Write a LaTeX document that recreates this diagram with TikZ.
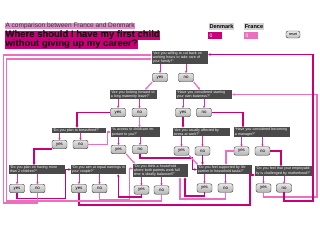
\documentclass[tikz,border=0pt]{standalone}
\usepackage{fontspec}
\setmainfont{Liberation Sans}
\usetikzlibrary{arrows.meta}
\definecolor{dkmagenta}{HTML}{C8007A}
\definecolor{frpink}{HTML}{EA6FBF}
\definecolor{subpink}{HTML}{E58BCB}
\definecolor{qgray}{HTML}{4A4A4A}

\begin{document}
\begin{tikzpicture}[x=1pt, y=-1pt,
  qbox/.style={fill=qgray, text=white, font=\fontsize{3.6}{4.2}\selectfont, align=left, inner sep=0.8pt},
  ansbtn/.style={draw=gray!45!black, line width=0.4pt, rounded corners=2pt, top color=gray!20, bottom color=gray!60, minimum width=15pt, minimum height=8.5pt, inner sep=0pt, font=\fontsize{4.4}{5}\selectfont},
  dkline/.style={draw=dkmagenta, line width=1.2pt, -{Stealth[length=2.4pt,width=2.6pt]}},
  frline/.style={draw=frpink, line width=1.2pt, -{Stealth[length=2.4pt,width=2.6pt]}},
  qarrow/.style={draw=frpink!45!dkmagenta, line width=0.9pt, -{Stealth[length=2.2pt,width=2.4pt]}}]
  \useasboundingbox (0,0) rectangle (320,240);
  % heading
  \node[anchor=west, fill=subpink, inner sep=0.4pt, text height=4.6pt, text depth=1.2pt, font=\fontsize{6.5}{7}\selectfont, text=black!80] (subtitle) at (5,26) {A comparison between France and Denmark};
  \node[anchor=west, fill=dkmagenta, inner sep=0.4pt, text height=6.9pt, text depth=1.9pt, font=\fontsize{9.5}{10}\selectfont\bfseries] (title1) at (5,35.5) {Where should I have my first child};
  \node[anchor=west, fill=dkmagenta, inner sep=0.4pt, text height=6.9pt, text depth=1.9pt, font=\fontsize{9.5}{10}\selectfont\bfseries] (title2) at (5,44.5) {without giving up my career?};
  % score counters
  \node[fill=gray!35, inner sep=0.8pt, text height=4pt, text depth=0.8pt, font=\fontsize{5.6}{6}\selectfont\bfseries] (dklabel) at (221.5,26.5) {Denmark};
  \node[fill=gray!35, inner sep=0.8pt, text height=4pt, text depth=0.8pt, font=\fontsize{5.6}{6}\selectfont\bfseries] (frlabel) at (254,26.5) {France};
  \node[fill=dkmagenta, text=white, text width=11pt, align=left, inner sep=1.5pt, minimum height=7pt, font=\fontsize{5}{6}\selectfont] (dkscore) at (215,35.5) {0};
  \node[fill=frpink, text=white, text width=11pt, align=left, inner sep=1.5pt, minimum height=7pt, font=\fontsize{5}{6}\selectfont] (frscore) at (251,35.5) {0};
  \node[draw=gray!40!black, rounded corners=2pt, top color=gray!15, bottom color=gray!50, minimum width=14pt, minimum height=7pt, inner sep=0pt, font=\fontsize{3.8}{4}\selectfont] (reset) at (293,34.5) {reset};

  % questions
  \node[qbox, text width=54.4pt] (q1) at (180,57.5) {``Are you willing to cut back on working hours to take care of your family?''};
  \node[qbox, text width=45.4pt] (q2) at (133.5,94.5) {``Are you looking forward to a long maternity leave?''};
  \node[qbox, text width=54.4pt] (q3) at (204,94.5) {``Have you considered starting your own business?''};
  \node[qbox, text width=52.4pt] (q4) at (79,130.5) {``Do you plan to breastfeed?''};
  \node[qbox, text width=47.4pt] (q5) at (135.5,132) {``Is access to childcare important to you?''};
  \node[qbox, text width=55.4pt] (q6) at (201.5,132) {``Are you usually affected by stress at work?''};
  \node[qbox, text width=54.4pt] (q7) at (262,132) {``Have you considered becoming a manager?''};
  \node[qbox, text width=54.4pt] (q8) at (37,169.5) {``Do you plan on having more than 2 children?''};
  \node[qbox, text width=53.4pt] (q9) at (98.5,169.5) {``Do you aim at equal earnings in your couple?''};
  \node[qbox, text width=53.4pt] (q10) at (160.5,170.5) {``Do you think a household where both parents work full time is ideally balanced?''};
  \node[qbox, text width=53.4pt] (q11) at (224.5,169.5) {``Do you feel supported by life partner in household tasks?''};
  \node[qbox, text width=55.4pt] (q12) at (283.5,171) {``Do you feel that your employability is challenged by motherhood?''};

  % answer buttons
  \node[ansbtn] (y1) at (160,77.5) {yes};    \node[ansbtn] (n1) at (186,77.5) {no};
  \node[ansbtn] (y2) at (118,112.5) {yes};   \node[ansbtn] (n2) at (139.5,112.5) {no};
  \node[ansbtn] (y3) at (183,112.5) {yes};   \node[ansbtn] (n3) at (204,112.5) {no};
  \node[ansbtn] (y4) at (59.5,144.5) {yes};  \node[ansbtn] (n4) at (80.5,144.5) {no};
  \node[ansbtn] (y5) at (118.5,149.5) {yes}; \node[ansbtn] (n5) at (140,149.5) {no};
  \node[ansbtn] (y6) at (181.5,151) {yes};   \node[ansbtn] (n6) at (202.5,151) {no};
  \node[ansbtn] (y7) at (241.5,151) {yes};   \node[ansbtn] (n7) at (262.5,151) {no};
  \node[ansbtn] (y8) at (17,188.5) {yes};    \node[ansbtn] (n8) at (37.5,188.5) {no};
  \node[ansbtn] (y9) at (79,188.5) {yes};    \node[ansbtn] (n9) at (99.5,188.5) {no};
  \node[ansbtn] (y10) at (141.5,190) {yes};  \node[ansbtn] (n10) at (161.5,190) {no};
  \node[ansbtn] (y11) at (204.5,188) {yes};  \node[ansbtn] (n11) at (225.5,188) {no};
  \node[ansbtn] (y12) at (263.5,188) {yes};  \node[ansbtn] (n12) at (284,188) {no};

  % question to its answers
  \draw[qarrow] (q1.south -| y1) -- (y1.north);   \draw[qarrow] (q1.south -| n1) -- (n1.north);
  \draw[qarrow] (q2.south -| y2) -- (y2.north);   \draw[qarrow] (q2.south -| n2) -- (n2.north);
  \draw[qarrow] (q3.south -| y3) -- (y3.north);   \draw[qarrow] (q3.south -| n3) -- (n3.north);
  \draw[qarrow] (q4.south -| y4) -- (y4.north);   \draw[qarrow] (q4.south -| n4) -- (n4.north);
  \draw[qarrow] (q5.south -| y5) -- (y5.north);   \draw[qarrow] (q5.south -| n5) -- (n5.north);
  \draw[qarrow] (q6.south -| y6) -- (y6.north);   \draw[qarrow] (q6.south -| n6) -- (n6.north);
  \draw[qarrow] (q7.south -| y7) -- (y7.north);   \draw[qarrow] (q7.south -| n7) -- (n7.north);
  \draw[qarrow] (q8.south -| y8) -- (y8.north);   \draw[qarrow] (q8.south -| n8) -- (n8.north);
  \draw[qarrow] (q9.south -| y9) -- (y9.north);   \draw[qarrow] (q9.south -| n9) -- (n9.north);
  \draw[qarrow] (q10.south -| y10) -- (y10.north); \draw[qarrow] (q10.south -| n10) -- (n10.north);
  \draw[qarrow] (q11.south -| y11) -- (y11.north); \draw[qarrow] (q11.south -| n11) -- (n11.north);
  \draw[qarrow] (q12.south -| y12) -- (y12.north); \draw[qarrow] (q12.south -| n12) -- (n12.north);

  % answers to the next question
  \draw[frline] (y1.south west) -- ([xshift=-12pt]q2.north east);
  \draw[frline] (n1.south east) -- ([xshift=-4pt]q3.north);
  \draw[dkline] (y2.west) -| ([xshift=-2pt]q4.north);
  \draw[frline] (n2.south) -- (q5.north -| n2);
  \draw[dkline] (y3.south) -- (q6.north -| y3);
  \draw[dkline] (n3.east) -| ([xshift=-19pt]q7.north);
  \draw[dkline] (y4.south west) -| ([xshift=-3pt]q8.north);
  \draw[frline] (n4.east) -| ([xshift=-3pt]q5.west) -- (q5.west);
  \draw[frline] (y5.south east) -- ([xshift=2pt]q10.north west);
  \draw[dkline] (n5.south) -- ++(0,4) -| ([xshift=-4pt]q11.west) -- (q11.west);
  \draw[frline] (y6.south east) -- ([xshift=1pt]q11.north west);
  \draw[dkline] (n6.south) -- (q11.north -| n6);
  \draw[frline] (y7.west) -| ([xshift=1.5pt]q11.north);
  \draw[dkline] (n7.east) -| ([xshift=-2.5pt]q12.north);

  % last row, routed along the bottom
  \draw[dkline] (y8.south) -- ++(0,5.5) -| ([xshift=-5pt]q9.west) -- (q9.west);
  \draw[dkline] (y9.south) |- (250,205) |- ([yshift=-4pt]q12.west);
  \draw[frline] (n9.south) -- ++(0,7) -| ([xshift=-3.5pt,yshift=2pt]q10.west) -- ([yshift=2pt]q10.west);
  \draw[dkline] (y10.south) -- ++(0,2.5) -| ([xshift=-8pt]q9.south east);
  \draw[dkline] (y11.south) -- ++(0,3.5) -| ([xshift=24.5pt]q10.south);
  \draw[frline] (n11.south) -- ++(0,6.5) -| ([xshift=19.5pt]q10.south);

  % loops back to the start
  \draw[frline, line width=1.6pt] (n8.south) |- (3.5,203) |- ([yshift=2.5pt]q1.west);
  \draw[frline, line width=1.6pt] (n10.south) |- (6.5,201) |- ([yshift=-1.5pt]q1.west);
  \draw[frline, line width=1.5pt] (y12.south) |- (317,197) |- (q3.east);
  \draw[dkline, line width=1.8pt] (n12.south) |- (313,201) |- ([yshift=3pt]q1.east);
\end{tikzpicture}
\end{document}
